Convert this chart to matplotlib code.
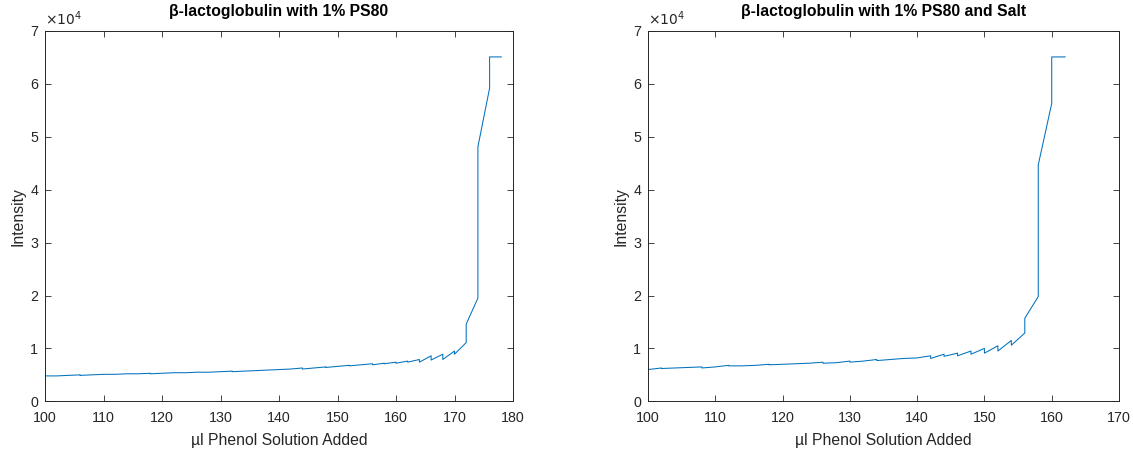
import matplotlib
matplotlib.use("Agg")
import matplotlib.pyplot as plt
from matplotlib.ticker import FuncFormatter

plt.rcParams['font.family'] = ['Liberation Sans', 'DejaVu Sans']

# ---- data (intensity in units of 1e4) ----
titles = ["β-lactoglobulin with 1% PS80", "β-lactoglobulin with 1% PS80 and Salt"]
xlabel = "µl Phenol Solution Added"
ylabel = "Intensity"

left_x = [100, 102, 104, 106, 106, 108, 110, 112, 114, 116, 118, 118, 120, 122, 124, 126,
          128, 130, 132, 132, 134, 136, 138, 140, 142, 144, 144, 146, 148, 148, 150, 152, 152,
          154, 156, 156, 158, 158, 160, 160, 162, 162, 164, 164, 166, 166, 168, 168, 170, 170,
          172, 172, 174, 174, 176, 176, 178]
left_y = [0.48, 0.48, 0.49, 0.50, 0.49, 0.50, 0.51, 0.51, 0.52, 0.52, 0.53, 0.52, 0.53, 0.54,
          0.54, 0.55, 0.55, 0.56, 0.57, 0.56, 0.57, 0.58, 0.59, 0.60, 0.61, 0.63, 0.61, 0.63,
          0.65, 0.64, 0.66, 0.68, 0.67, 0.69, 0.71, 0.69, 0.72, 0.71, 0.74, 0.72, 0.76, 0.74,
          0.79, 0.74, 0.86, 0.78, 0.89, 0.79, 0.95, 0.89, 1.11, 1.46, 1.95, 4.81, 5.92, 6.51,
          6.51]

right_x = [100, 102, 102, 104, 106, 108, 108, 110, 112, 112, 114, 116, 118, 118, 120, 122,
           124, 126, 126, 128, 130, 130, 132, 134, 134, 136, 138, 140, 142, 142, 144, 144,
           146, 146, 148, 148, 150, 150, 152, 152, 154, 154, 156, 156, 158, 158, 160, 160, 162]
right_y = [0.60, 0.63, 0.62, 0.63, 0.64, 0.65, 0.63, 0.65, 0.68, 0.67, 0.67, 0.68, 0.70,
           0.69, 0.70, 0.71, 0.72, 0.74, 0.72, 0.73, 0.76, 0.74, 0.76, 0.79, 0.77, 0.79,
           0.81, 0.82, 0.86, 0.81, 0.89, 0.85, 0.91, 0.86, 0.95, 0.89, 1.00, 0.91, 1.05,
           0.95, 1.15, 1.06, 1.29, 1.57, 1.98, 4.47, 5.63, 6.51, 6.51]

left_xlim = (100, 180)
right_xlim = (100, 170)
scale = 1e4

series = [(left_x, left_y, left_xlim), (right_x, right_y, right_xlim)]

W, H = 1133, 449
fig = plt.figure(figsize=(W / 100, H / 100), dpi=100)
axc = '#262626'
positions = [(45 / W, (H - 401.3) / H, 468 / W, 370.3 / H),
             (648 / W, (H - 401.3) / H, 471 / W, 370.3 / H)]

for (xs, ys, xl), pos, title in zip(series, positions, titles):
    ax = fig.add_axes(pos)
    ax.plot(xs, [v * scale for v in ys], color='#0072BD', lw=0.75)
    ax.set_xlim(*xl)
    ax.set_ylim(0, 7 * scale)
    ax.set_yticks([i * scale for i in range(8)])
    ax.set_xticks(list(range(xl[0], xl[1] + 1, 10)))
    ax.yaxis.set_major_formatter(FuncFormatter(lambda v, p: f"{v / scale:g}"))
    ax.tick_params(direction='in', length=4, width=0.6, colors=axc, labelsize=10.3,
                   top=True, right=True)
    ax.tick_params(axis='x', pad=7)
    ax.tick_params(axis='y', pad=5)
    for sp in ax.spines.values():
        sp.set_color(axc)
        sp.set_linewidth(0.7)
    ax.set_title(title, fontsize=11.3, fontweight='bold', color='black', pad=11)
    ax.set_xlabel(xlabel, fontsize=11.3, color=axc, labelpad=6)
    ax.set_ylabel(ylabel, fontsize=11.3, color=axc, labelpad=3)
    ax.text(0.0, 1.008, r"$\times10^{4}$", transform=ax.transAxes, ha='left', va='bottom',
            fontsize=10, color=axc)

fig.savefig("out.png", dpi=100)
